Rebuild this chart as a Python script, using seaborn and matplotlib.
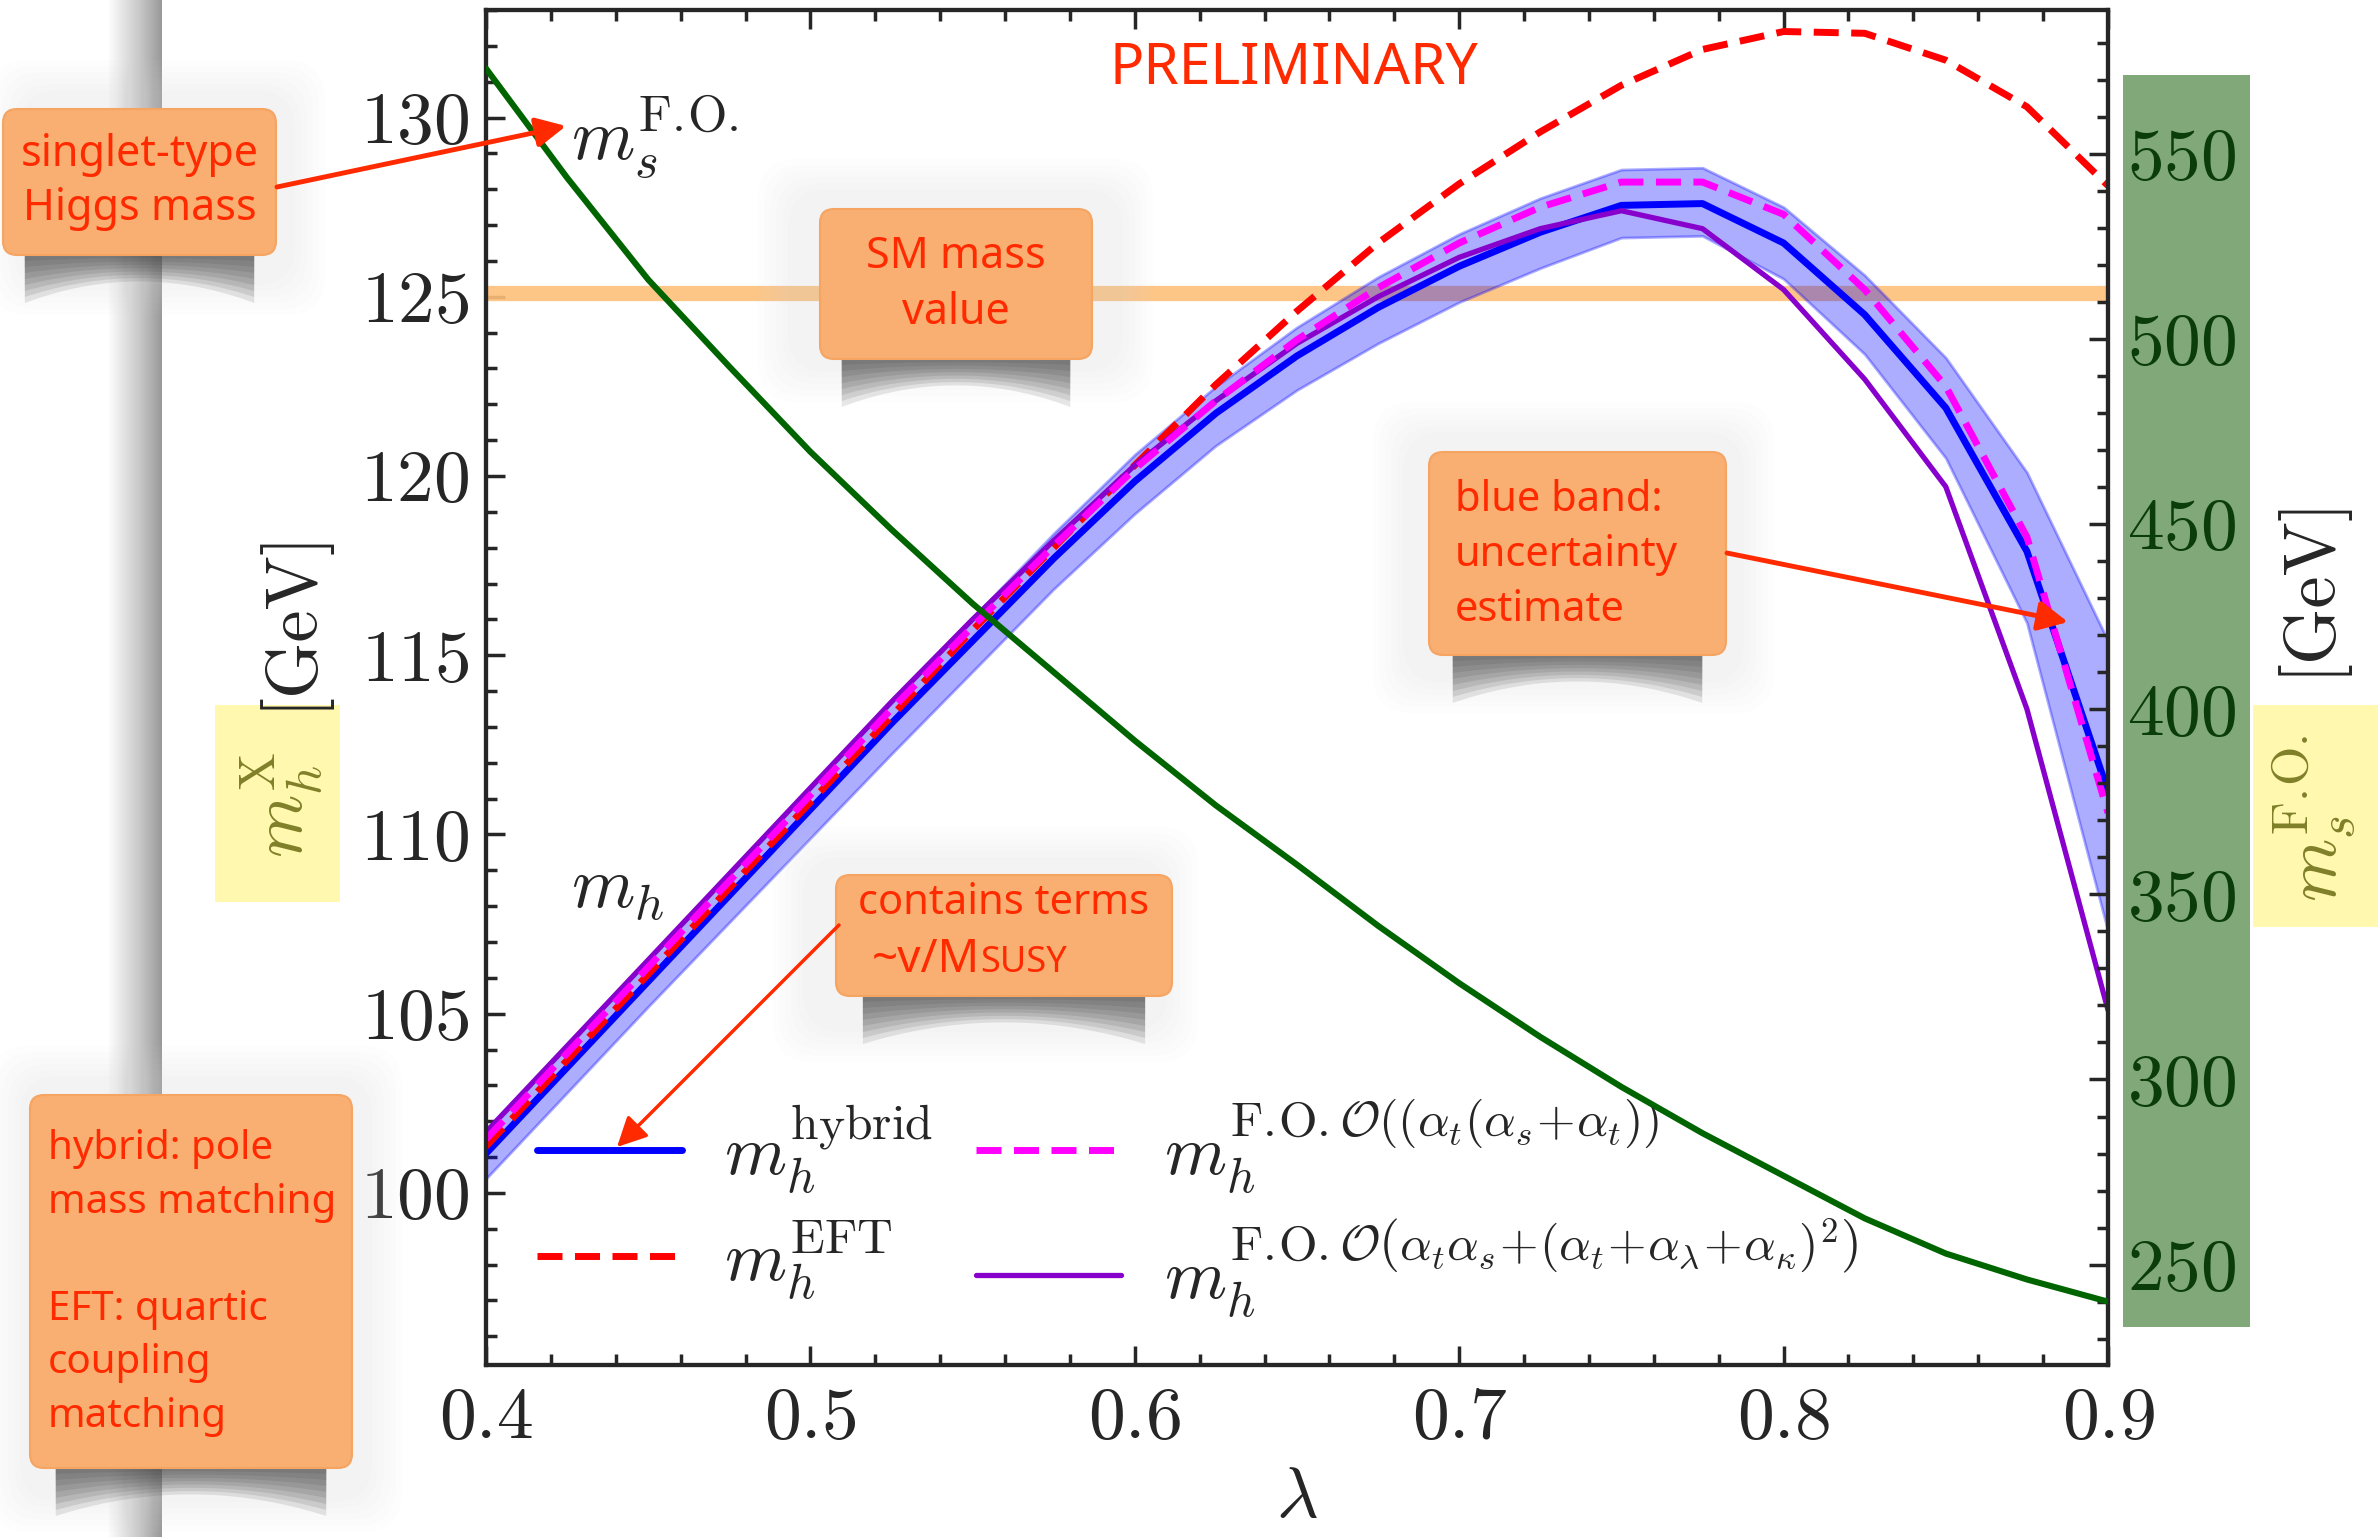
import numpy as np
import pandas as pd
import seaborn as sns
import matplotlib.pyplot as plt
from matplotlib.patches import FancyBboxPatch, Rectangle, Polygon
from matplotlib.ticker import MultipleLocator

# values
lam = [0.400, 0.425, 0.450, 0.475, 0.500, 0.525, 0.550, 0.575, 0.600, 0.625, 0.650,
       0.675, 0.700, 0.725, 0.750, 0.775, 0.800, 0.825, 0.850, 0.875, 0.900]
m_hybrid = [101.1, 103.5, 105.9, 108.3, 110.7, 113.1, 115.4, 117.7, 119.85, 121.75, 123.35,
            124.7, 125.85, 126.8, 127.55, 127.6, 126.5, 124.5, 121.9, 117.9, 111.2]
band_hi = [101.7, 104.1, 106.5, 108.9, 111.3, 113.75, 116.05, 118.4, 120.6, 122.5, 124.15,
           125.55, 126.75, 127.75, 128.55, 128.6, 127.5, 125.6, 123.3, 120.1, 115.4]
band_lo = [100.4, 102.8, 105.2, 107.55, 109.9, 112.25, 114.55, 116.85, 118.95, 120.85, 122.4,
           123.7, 124.85, 125.8, 126.65, 126.7, 125.5, 123.4, 120.5, 115.9, 107.3]
m_eft = [101.3, 103.7, 106.1, 108.5, 110.9, 113.3, 115.7, 118.0, 120.3, 122.55, 124.6,
         126.5, 128.15, 129.6, 130.9, 131.9, 132.4, 132.35, 131.6, 130.3, 128.1]
m_fo_2l = [101.5, 103.9, 106.3, 108.7, 111.1, 113.5, 115.8, 118.05, 120.2, 122.1, 123.8,
           125.25, 126.5, 127.5, 128.2, 128.2, 127.3, 125.2, 122.5, 118.3, 110.6]
m_fo_full = [101.7, 104.1, 106.5, 108.9, 111.3, 113.7, 116.0, 118.2, 120.3, 122.1, 123.7,
             125.0, 126.1, 126.9, 127.4, 126.9, 125.2, 122.7, 119.7, 113.5, 105.1]
ms_fo = [573.0, 543.5, 516.0, 492.5, 469.5, 448.5, 428.5, 410.0, 391.5, 374.0, 358.0,
         341.5, 326.0, 311.5, 298.0, 285.5, 274.0, 262.5, 253.0, 246.0, 240.0]
sm_mass = 125.1

df = pd.DataFrame({"lam": lam, "hybrid": m_hybrid, "lo": band_lo, "hi": band_hi,
                   "eft": m_eft, "fo2": m_fo_2l, "fo3": m_fo_full, "ms": ms_fo})

sns.set_style("ticks")
plt.rcParams['font.family'] = ['cmr10', 'DejaVu Serif']
plt.rcParams['mathtext.fontset'] = 'cm'
plt.rcParams['axes.formatter.use_mathtext'] = True
plt.rcParams['axes.unicode_minus'] = False

W, H = 2378, 1537
fig = plt.figure(figsize=(W / 100, H / 100), dpi=100)
ax = fig.add_axes([486 / W, 1 - 1365 / H, (2108 - 486) / W, (1365 - 10) / H])

ax.axhline(sm_mass, color='#fdc07a', lw=11, alpha=0.9, zorder=1)
ax.fill_between(df["lam"], df["lo"], df["hi"], facecolor='#0000ff', edgecolor='#0000ff',
                alpha=0.32, lw=2, zorder=2)
sns.lineplot(data=df, x="lam", y="hybrid", ax=ax, color='#0000ff', lw=5, zorder=3)
l_hyb = ax.lines[-1]
sns.lineplot(data=df, x="lam", y="eft", ax=ax, color='#ff0000', lw=5, linestyle='--', zorder=4)
l_eft = ax.lines[-1]
l_eft.set_dashes((3.6, 1.8))
sns.lineplot(data=df, x="lam", y="fo2", ax=ax, color='#ff00ff', lw=5, linestyle='--', zorder=5)
l_fo2 = ax.lines[-1]
l_fo2.set_dashes((3.6, 1.8))
sns.lineplot(data=df, x="lam", y="fo3", ax=ax, color='#8800cc', lw=3.8, zorder=4)
l_fo3 = ax.lines[-1]

ax.set_xlim(0.4, 0.9)
ax.set_ylim(95.2, 133.0)
ax.set_xlabel(r'$\lambda$', fontsize=52, labelpad=10)
ax.set_ylabel('')
ax.xaxis.set_major_locator(MultipleLocator(0.1))
ax.xaxis.set_minor_locator(MultipleLocator(0.02))
ax.yaxis.set_major_locator(MultipleLocator(5))
ax.yaxis.set_minor_locator(MultipleLocator(1))
ax.tick_params(which='both', direction='in', top=True, right=False, width=2.5, labelsize=53)
ax.tick_params(which='major', length=14)
ax.tick_params(which='minor', length=8)
ax.tick_params(axis='x', pad=16)
ax.tick_params(axis='y', pad=12)
for s in ax.spines.values():
    s.set_linewidth(3)

ax2 = ax.twinx()
sns.lineplot(data=df, x="lam", y="ms", ax=ax2, color='#006400', lw=4.4, zorder=6)
ax2.set_ylim(222.9, 588.8)
ax2.set_ylabel('')
ax2.yaxis.set_major_locator(MultipleLocator(50))
ax2.yaxis.set_minor_locator(MultipleLocator(10))
ax2.tick_params(which='both', direction='in', right=True, width=2.5, labelsize=53,
                labelcolor='#0b3d0b', pad=14)
ax2.tick_params(which='major', length=14)
ax2.tick_params(which='minor', length=8)
for s in ax2.spines.values():
    s.set_linewidth(3)

labels = [r'$m_h^{\mathrm{hybrid}}$', r'$m_h^{\mathrm{EFT}}$',
          r'$m_h^{\mathrm{F.\!O.}\mathcal{O}((\alpha_t(\alpha_s\!+\!\alpha_t))}$',
          r'$m_h^{\mathrm{F.\!O.}\mathcal{O}\left(\alpha_t\alpha_s\!+\!(\alpha_t\!+\!\alpha_\lambda\!+\!\alpha_\kappa)^2\right)}$']
ax.legend([l_hyb, l_eft, l_fo2, l_fo3], labels, ncol=2, loc='upper left',
          bbox_to_anchor=(-0.008, 0.245), frameon=False, fontsize=51, handlelength=2.05,
          columnspacing=0.6, handletextpad=0.6, labelspacing=0.3)

# background layer in pixel coordinates
bg = fig.add_axes([0, 0, 1, 1], zorder=-10)
bg.set_xlim(0, W)
bg.set_ylim(H, 0)
bg.axis('off')
grad = np.concatenate([np.linspace(1.0, 0.80, 30), np.linspace(0.80, 0.60, 25)])
bg.imshow(grad[None, :], cmap='gray', vmin=0, vmax=1, aspect='auto',
          extent=[107, 162, H, 0])
bg.add_patch(Rectangle((2123, 75), 127, 1252, color='#80a878', lw=0))
bg.add_patch(Rectangle((2253, 705), 125, 222, color='#fff8ae', lw=0))
bg.add_patch(Rectangle((215, 705), 125, 197, color='#fff8ae', lw=0))
bg.text(290, 618, '[GeV]', rotation=90, ha='center', va='center', fontsize=52)
bg.text(282, 805, r'$m_h^{\mathrm{X}}$', rotation=90, ha='center', va='center',
        fontsize=52, color='#80802a')
bg.text(2308, 584, '[GeV]', rotation=90, ha='center', va='center', fontsize=52)
bg.text(2314, 818, r'$m_s^{\mathrm{F.\!O.}}$', rotation=90, ha='center', va='center',
        fontsize=52, color='#80802a')

# overlay layer: notes, shadows, arrows
ov = fig.add_axes([0, 0, 1, 1], zorder=10)
ov.set_xlim(0, W)
ov.set_ylim(H, 0)
ov.axis('off')
ov.patch.set_alpha(0)

note_face = '#f9ae72'
note_red = '#ff2a00'
cfont = ['Noto Sans', 'DejaVu Sans']


def halo(x0, y0, x1, y1):
    for k in range(6):
        p = 6 * k
        ov.add_patch(FancyBboxPatch((x0 + p, y0 + p), x1 - x0 - 2 * p, y1 - y0 - 2 * p,
                                    boxstyle='round,pad=0,rounding_size=40',
                                    fc='#d8d8d8', ec='none', alpha=0.045))


def note(x0, y0, x1, y1):
    w = x1 - x0
    xs = np.linspace(x0 + 0.08 * w, x1 - 0.08 * w, 40)
    t = (xs - (x0 + x1) / 2) / (0.42 * w)
    for k in range(8):
        depth = 48 * (k + 1) / 8
        bottom = y1 + depth * (0.55 + 0.45 * t ** 2)
        pts = np.column_stack([np.r_[xs, xs[::-1]], np.r_[bottom, np.full(40, y1 - 5)]])
        ov.add_patch(Polygon(pts, closed=True, fc='#3a3a3a', ec='none', alpha=0.12))
    ov.add_patch(FancyBboxPatch((x0, y0), x1 - x0, y1 - y0,
                                boxstyle='round,pad=0,rounding_size=14',
                                fc=note_face, ec='#f5a462', lw=1.5))


def arrow(x0, y0, x1, y1, lw=3.5):
    ov.annotate('', xy=(x1, y1), xytext=(x0, y0),
                arrowprops=dict(arrowstyle='-|>', color=note_red, lw=lw,
                                mutation_scale=45, shrinkA=0, shrinkB=0))


halo(-10, 60, 325, 315)
halo(758, 159, 1153, 402)
halo(1373, 402, 1774, 713)
halo(773, 827, 1198, 1062)
halo(-10, 1046, 402, 1532)

tkw = dict(color=note_red, family=cfont, fontweight='semibold')
note(3, 109, 276, 255)
ov.text(140, 182, 'singlet-type\nHiggs mass', ha='center', va='center', fontsize=31,
        linespacing=1.3, **tkw)
note(820, 209, 1092, 359)
ov.text(956, 285, 'SM mass\nvalue', ha='center', va='center', fontsize=31,
        linespacing=1.35, **tkw)
note(1429, 452, 1726, 655)
ov.text(1455, 555, 'blue band:\nuncertainty\nestimate', ha='left', va='center', fontsize=30,
        linespacing=1.4, **tkw)
note(836, 875, 1172, 996)
ov.text(1004, 903, 'contains terms', ha='center', va='center', fontsize=30, **tkw)
ov.text(980, 972, '~v/M', ha='right', va='baseline', fontsize=33, **tkw)
ov.text(980, 972, 'SUSY', ha='left', va='baseline', fontsize=26, **tkw)
note(30, 1095, 352, 1468)
ov.text(48, 1283, 'hybrid: pole\nmass matching\n\nEFT: quartic\ncoupling\nmatching',
        ha='left', va='center', fontsize=29, linespacing=1.45, **tkw)

arrow(277, 187, 566, 126)
arrow(1727, 553, 2068, 622)
arrow(839, 925, 617, 1147, lw=2.5)

ov.text(1294, 70, 'PRELIMINARY', ha='center', va='center', fontsize=41, **tkw)
ov.text(571, 160, r'$m_s^{\mathrm{F.\!O.}}$', ha='left', va='baseline', fontsize=52)
ov.text(571, 908, r'$m_h$', ha='left', va='baseline', fontsize=52)

fig.savefig('out.png', dpi=100)
